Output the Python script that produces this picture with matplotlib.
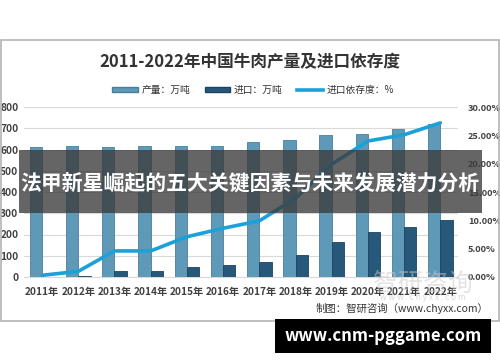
import matplotlib
matplotlib.use("Agg")
import matplotlib.pyplot as plt
from matplotlib.patches import Rectangle
from matplotlib.lines import Line2D
from matplotlib.patches import Patch

plt.rcParams['font.family'] = ['Noto Sans CJK SC', 'DejaVu Sans']

years = ["2011年", "2012年", "2013年", "2014年", "2015年", "2016年",
         "2017年", "2018年", "2019年", "2020年", "2021年", "2022年"]
production = [610.7, 614.7, 613.1, 615.7, 616.9, 616.9, 634.6, 644.1, 667.3, 672.5, 697.5, 718.3]
imports = [2.0, 6.1, 29.4, 29.8, 47.4, 58.0, 69.5, 104.0, 165.9, 211.8, 233.3, 269.0]
dependency = [0.3, 1.0, 4.6, 4.6, 7.1, 8.6, 9.9, 13.9, 19.9, 24.0, 25.1, 27.2]
left_ticks = [0, 100, 200, 300, 400, 500, 600, 700, 800]
right_ticks = [0, 5, 10, 15, 20, 25, 30]

W, H = 500, 362
fig = plt.figure(figsize=(W / 100, H / 100), dpi=100)
fig.patch.set_facecolor("white")

def fx(px):
    return px / W

def fy(py):
    return 1 - py / H

# chart frame
fig.add_artist(Rectangle((fx(0.5), fy(321)), fx(498.5), (321 - 40) / H,
                         transform=fig.transFigure, fill=False,
                         edgecolor="#b4b4b4", lw=1.2))

ax = fig.add_axes([fx(24), fy(277), fx(458.4) - fx(24), fy(107) - fy(277)])
ax2 = ax.twinx()

x = list(range(len(years)))
bw = 0.34
ax.bar([i - 0.17 for i in x], production, width=bw, color="#5f99b8",
       edgecolor="#4a7f9c", lw=0.6, zorder=3)
ax.bar([i + 0.17 for i in x], imports, width=bw, color="#27587a",
       edgecolor="#1c4360", lw=0.6, zorder=3)
ax.set_ylim(0, 800)
ax.set_xlim(-0.5, 11.5)
ax.set_yticks(left_ticks)
ax.set_yticklabels([str(t) for t in left_ticks])
ax.set_xticks(x)
ax.set_xticklabels(years)
ax.grid(axis="y", color="#d9d9d9", lw=0.8, zorder=0)
ax.set_axisbelow(True)
for s in ax.spines.values():
    s.set_visible(False)
ax.spines["bottom"].set_visible(True)
ax.spines["bottom"].set_color("#d9d9d9")
ax.tick_params(axis="both", length=0, labelsize=7.3, colors="#404040")
ax.tick_params(axis="y", pad=4)
ax.tick_params(axis="x", pad=7)
for lab in ax.get_xticklabels() + ax.get_yticklabels():
    lab.set_fontweight("bold")

ax2.plot(x, dependency, color="#1ba1d8", lw=2.6, zorder=5, solid_capstyle="round")
ax2.set_ylim(0, 30)
ax2.set_yticks(right_ticks)
ax2.set_yticklabels([f"{t:.2f}%" for t in right_ticks])
for s in ax2.spines.values():
    s.set_visible(False)
ax2.tick_params(axis="y", length=0, labelsize=6.6, colors="#404040", pad=7)
for lab in ax2.get_yticklabels():
    lab.set_fontweight("bold")

# title
fig.text(fx(250), fy(62), "2011-2022年中国牛肉产量及进口依存度", ha="center", va="center",
         fontsize=12, fontweight="bold", color="#333333")

# legend
handles = [Patch(facecolor="#5f99b8", edgecolor="#4a7f9c"),
           Patch(facecolor="#27587a", edgecolor="#1c4360"),
           Line2D([0], [0], color="#1ba1d8", lw=2.6)]
labels = ["产量：万吨", "进口：万吨", "进口依存度：%"]
fig.legend(handles, labels, loc="center", bbox_to_anchor=(fx(253), fy(90)), ncol=3,
           frameon=False, fontsize=7, handlelength=2.6, handleheight=0.5,
           columnspacing=1.5, handletextpad=0.4, labelcolor="#333333")

# watermark
fig.text(fx(423), fy(284), "智研咨询", ha="center", va="center", fontsize=18,
         color="#c8c8c8", alpha=0.5, zorder=1)
fig.text(fx(423), fy(298), "w w w . c h y x x . c o m", ha="center", va="center",
         fontsize=6, color="#c8c8c8", alpha=0.7, zorder=1)

# source
fig.text(fx(488), fy(308), "制图：智研咨询（www.chyxx.com）", ha="right", va="center",
         fontsize=7.5, color="#333333")

# banner overlay
fig.add_artist(Rectangle((fx(19), fy(213)), fx(463), (213 - 150) / H,
                         transform=fig.transFigure, facecolor="#3a3a3a", alpha=0.78,
                         edgecolor="none", zorder=10))
fig.text(fx(250), fy(183), "法甲新星崛起的五大关键因素与未来发展潜力分析", ha="center",
         va="center", fontsize=15, fontweight="bold", color="white", zorder=11)

# bottom black label
fig.add_artist(Rectangle((fx(275), fy(353)), fx(216), (353 - 319) / H,
                         transform=fig.transFigure, facecolor="black",
                         edgecolor="none", zorder=10))
fig.text(fx(383), fy(336), "www.cnm-pggame.com", ha="center", va="center",
         fontsize=12, fontweight="bold", color="white", zorder=11)

fig.savefig("out.png", dpi=100, facecolor="white")
